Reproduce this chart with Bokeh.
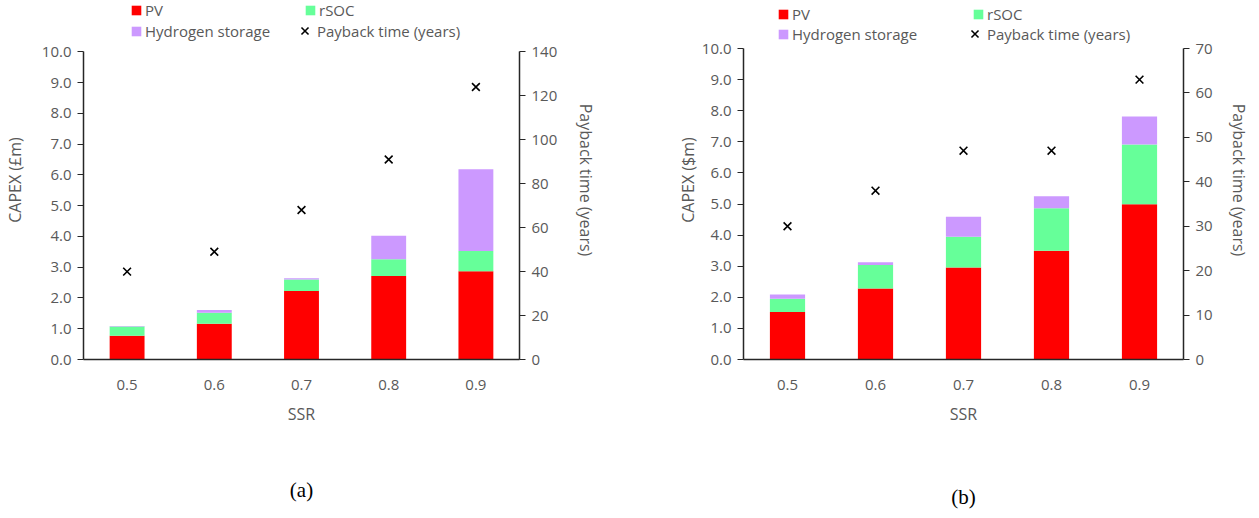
from bokeh.plotting import figure
from bokeh.models import (Range1d, LinearAxis, CategoricalAxis, Legend, FactorRange, ColumnDataSource,
                          SingleIntervalTicker, NumeralTickFormatter)
from bokeh.layouts import row
from bokeh.embed import file_html
from bokeh.resources import INLINE

ssr = ["0.5", "0.6", "0.7", "0.8", "0.9"]

# (a) CAPEX in £m
pv_a = [0.77, 1.16, 2.23, 2.71, 2.87]
rsoc_a = [0.30, 0.36, 0.37, 0.55, 0.66]
h2_a = [0.02, 0.09, 0.04, 0.76, 2.65]
payback_a = [40, 49, 68, 91, 124]

# (b) CAPEX in $m
pv_b = [1.53, 2.28, 2.96, 3.50, 4.99]
rsoc_b = [0.42, 0.76, 0.99, 1.36, 1.92]
h2_b = [0.14, 0.09, 0.64, 0.39, 0.90]
payback_b = [30, 38, 47, 47, 63]

capex_max = 10
FONT = "Open Sans"
TXT = "#595959"
AXC = "#262626"
COLORS = ["#FF0000", "#66FF99", "#CC99FF"]
HEIGHT = 515


def make_fig(pv, rsoc, h2, pb, pb_max, pb_step, ylab, caption, width, bl, br, frame_h, top_px,
             ylab_so, y2lab_so, leg1, leg2, cap_so):
    src = ColumnDataSource(dict(x=ssr, pv=pv, rsoc=rsoc, h2=h2, pb=pb))
    # frame extends above the axis maximum to host the legend; axes are bounded
    scale = frame_h / (frame_h - top_px)
    p = figure(x_range=FactorRange(*ssr), y_range=Range1d(0, capex_max * scale), width=width,
               height=HEIGHT, output_backend="svg", toolbar_location=None,
               min_border_left=bl, min_border_right=br, min_border_top=0,
               min_border_bottom=HEIGHT - frame_h)
    p.extra_y_ranges = {"pb": Range1d(0, pb_max * scale)}
    rs = p.vbar_stack(["pv", "rsoc", "h2"], x="x", width=0.4, color=COLORS, line_color=None,
                      source=src)
    sc = p.scatter(x="x", y="pb", marker="x", size=11, line_width=1.6, color="black",
                   y_range_name="pb", source=src)
    p.xgrid.visible = False
    p.ygrid.visible = False
    p.outline_line_color = None

    p.yaxis.ticker = SingleIntervalTicker(interval=1)
    p.yaxis.formatter = NumeralTickFormatter(format="0.0")
    p.yaxis.axis_label = ylab
    p.yaxis.bounds = (0, capex_max)

    ax2 = LinearAxis(y_range_name="pb", ticker=SingleIntervalTicker(interval=pb_step),
                     axis_label="Payback time (years)", bounds=(0, pb_max))
    p.add_layout(ax2, "right")

    for ax, so in [(p.yaxis[0], ylab_so), (ax2, y2lab_so)]:
        ax.minor_tick_line_color = None
        ax.major_tick_in = 0
        ax.major_tick_out = 6
        ax.major_tick_line_color = AXC
        ax.axis_line_color = AXC
        ax.axis_line_width = 1.5
        ax.major_label_text_font = FONT
        ax.major_label_text_font_size = "15px"
        ax.major_label_text_color = TXT
        ax.axis_label_text_font = FONT
        ax.axis_label_text_font_size = "16px"
        ax.axis_label_text_color = TXT
        ax.axis_label_text_font_style = "normal"
        ax.major_label_standoff = 6
        ax.axis_label_standoff = so

    xa = p.xaxis[0]
    xa.axis_label = "SSR"
    xa.major_tick_line_color = None
    xa.axis_line_color = AXC
    xa.axis_line_width = 1.5
    xa.major_label_text_font = FONT
    xa.major_label_text_font_size = "15px"
    xa.major_label_text_color = TXT
    xa.axis_label_text_font = FONT
    xa.axis_label_text_font_size = "16px"
    xa.axis_label_text_color = TXT
    xa.axis_label_text_font_style = "normal"
    xa.major_label_standoff = 14
    xa.axis_label_standoff = 10

    # sub-figure caption, carried by a bare second x axis below the first
    cap = CategoricalAxis(axis_label=caption, axis_line_color=None, major_tick_line_color=None,
                          minor_tick_line_color=None, major_tick_out=0, major_label_standoff=0,
                          major_label_text_font_size="0px", axis_label_standoff=cap_so,
                          axis_label_text_font="Liberation Serif", axis_label_text_font_size="21px",
                          axis_label_text_font_style="normal", axis_label_text_color="black")
    p.add_layout(cap, "below")

    common = dict(border_line_color=None, background_fill_alpha=0, margin=0, padding=0, spacing=0,
                  label_text_font=FONT, label_text_font_size="15px", label_text_color=TXT)
    lx, ly, lh, lw = leg1
    legend1 = Legend(items=[("PV", [rs[0]]), ("rSOC", [rs[1]]), ("Hydrogen storage", [rs[2]])],
                     orientation="horizontal", ncols=2, location=(lx, ly),
                     glyph_width=12, glyph_height=12, label_height=lh, label_width=lw,
                     label_standoff=3, **common)
    p.add_layout(legend1)
    px_, py_ = leg2
    legend2 = Legend(items=[("Payback time (years)", [sc])], location=(px_, py_),
                     glyph_width=25, glyph_height=25, label_height=25, label_standoff=0, **common)
    p.add_layout(legend2)
    return p


p1 = make_fig(pv_a, rsoc_a, h2_a, payback_a, 140, 20, "CAPEX (£m)", "(a)", 640, 83, 121, 364, 52,
              13, 15, (47, 318, 21, 159), (209, 316), 50)
p2 = make_fig(pv_b, rsoc_b, h2_b, payback_b, 70, 10, "CAPEX ($m)", "(b)", 615, 103, 72, 359, 48,
              0, 12, (34, 315, 20, 180), (219, 313), 57)

lay = row(p1, p2)
open("out.html", "w").write(file_html(lay, INLINE))
